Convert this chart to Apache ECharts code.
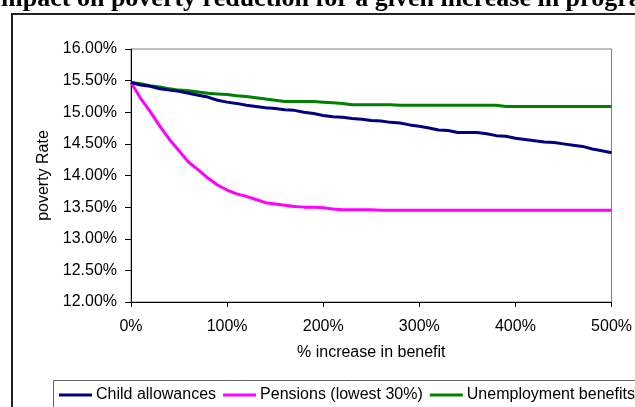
<!DOCTYPE html>
<html>
<head>
<meta charset="utf-8">
<script src="https://cdn.jsdelivr.net/npm/echarts@6/dist/echarts.min.js"></script>
<style>
  html, body { margin: 0; padding: 0; background: #fff; }
  #chart { width: 635px; height: 407px; }
</style>
</head>
<body>
<div id="chart"></div>
<script>
// % increase in benefit (x values)
const increases = [0,10,20,30,40,50,60,70,80,90,100,110,120,130,140,150,160,170,180,190,200,
  210,220,230,240,250,260,270,280,290,300,310,320,330,340,350,360,370,380,390,400,
  410,420,430,440,450,460,470,480,490,500];

// poverty rate (%) for each programme
const childAllowances = [15.47,15.43,15.41,15.37,15.35,15.33,15.30,15.27,15.24,15.19,15.16,
  15.14,15.11,15.09,15.07,15.06,15.04,15.03,15.00,14.98,14.95,
  14.93,14.92,14.90,14.89,14.87,14.86,14.84,14.83,14.80,14.78,
  14.75,14.72,14.71,14.68,14.68,14.68,14.66,14.63,14.62,14.59,
  14.57,14.55,14.53,14.52,14.50,14.48,14.46,14.42,14.39,14.36];

const pensions = [15.47,15.22,15.01,14.78,14.57,14.39,14.21,14.09,13.96,13.85,13.77,
  13.71,13.67,13.62,13.57,13.55,13.53,13.51,13.50,13.50,13.49,
  13.47,13.46,13.46,13.46,13.46,13.45,13.45,13.45,13.45,13.45,
  13.45,13.45,13.45,13.45,13.45,13.45,13.45,13.45,13.45,13.45,
  13.45,13.45,13.45,13.45,13.45,13.45,13.45,13.45,13.45,13.45];

const unemployment = [15.47,15.45,15.42,15.40,15.37,15.35,15.34,15.32,15.30,15.29,15.28,
  15.26,15.25,15.23,15.21,15.19,15.17,15.17,15.17,15.17,15.16,
  15.15,15.14,15.12,15.12,15.12,15.12,15.12,15.11,15.11,15.11,
  15.11,15.11,15.11,15.11,15.11,15.11,15.11,15.11,15.09,15.09,
  15.09,15.09,15.09,15.09,15.09,15.09,15.09,15.09,15.09,15.09];

const seriesNames = ['Child allowances', 'Pensions (lowest 30%)', 'Unemployment benefits'];
const seriesColors = ['#000080', '#FF00FF', '#008000'];
const seriesValues = [childAllowances, pensions, unemployment];

const titleText = 'Impact on poverty reduction for a given increase in program spending';

const FONT = '"Liberation Sans", Arial, sans-serif';

const chart = echarts.init(document.getElementById('chart'), null, { renderer: 'canvas' });

chart.setOption({
  animation: false,
  backgroundColor: '#fff',
  title: {
    text: titleText,
    left: -9,
    top: -14,
    padding: 0,
    textStyle: {
      fontFamily: '"Liberation Serif", "Times New Roman", serif',
      fontWeight: 'bold',
      fontSize: 26,
      color: '#000'
    }
  },
  graphic: [
    {
      type: 'rect',
      z: 0,
      shape: { x: 12, y: 14, width: 700, height: 500 },
      style: { fill: 'none', stroke: '#222', lineWidth: 2 }
    },
    {
      type: 'rect',
      z: 0,
      shape: { x: 53.5, y: 380.5, width: 700, height: 60 },
      style: { fill: 'none', stroke: '#666', lineWidth: 1 }
    }
  ],
  legend: {
    left: 59,
    top: 387,
    width: 700,
    padding: 0,
    itemGap: 7,
    itemWidth: 33,
    itemHeight: 3,
    icon: 'rect',
    data: seriesNames,
    textStyle: { fontFamily: FONT, fontSize: 16, color: '#000', padding: [0, 0, 0, -1] }
  },
  grid: {
    left: 131,
    top: 49,
    width: 482,
    height: 253,
    show: true,
    borderColor: '#808080',
    borderWidth: 1,
    backgroundColor: 'transparent'
  },
  xAxis: {
    type: 'value',
    min: 0,
    max: 500,
    interval: 100,
    name: '% increase in benefit',
    nameLocation: 'middle',
    nameGap: 43,
    nameTextStyle: { fontFamily: FONT, fontSize: 16, color: '#000' },
    axisLine: { show: true, onZero: false, lineStyle: { color: '#000', width: 1 } },
    axisTick: { show: true, inside: false, length: 5, lineStyle: { color: '#000' } },
    axisLabel: {
      margin: 17,
      fontFamily: FONT,
      fontSize: 16,
      color: '#000',
      formatter: v => v + '%'
    },
    splitLine: { show: false }
  },
  yAxis: {
    type: 'value',
    min: 12,
    max: 16,
    interval: 0.5,
    name: 'poverty Rate',
    nameLocation: 'middle',
    nameGap: 77,
    nameRotate: 90,
    nameTextStyle: { fontFamily: FONT, fontSize: 16, color: '#000' },
    axisLine: { show: true, lineStyle: { color: '#000', width: 1 } },
    axisTick: { show: true, inside: false, length: 6, lineStyle: { color: '#000' } },
    axisLabel: {
      margin: 14,
      fontFamily: FONT,
      fontSize: 16,
      color: '#000',
      formatter: v => v.toFixed(2) + '%'
    },
    splitLine: { show: false }
  },
  series: seriesNames.map((name, i) => ({
    name: name,
    type: 'line',
    showSymbol: false,
    symbol: 'none',
    smooth: false,
    color: seriesColors[i],
    lineStyle: { color: seriesColors[i], width: 3 },
    data: increases.map((x, j) => [x, seriesValues[i][j]]),
    z: 3 - i + 2
  }))
});
</script>
</body>
</html>
